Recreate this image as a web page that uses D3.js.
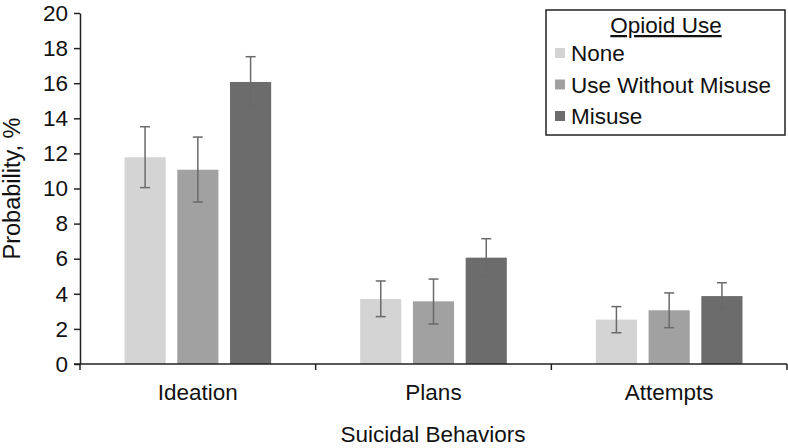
<!DOCTYPE html>
<html>
<head>
<meta charset="utf-8">
<script src="https://cdn.jsdelivr.net/npm/d3@7"></script>
<style>
  html, body { margin: 0; padding: 0; background: #fff; }
  svg { display: block; font-family: "Liberation Sans", Arial, sans-serif; }
</style>
</head>
<body>
<svg id="chart" width="788" height="448"></svg>
<script>
const categories = ["Ideation", "Plans", "Attempts"];
const seriesNames = ["None", "Use Without Misuse", "Misuse"];
const seriesColors = ["#d4d4d4", "#a1a1a1", "#6c6c6c"];
// values[series][category]
const values = [
  [11.78, 3.70, 2.53],
  [11.07, 3.57, 3.06],
  [16.07, 6.06, 3.87]
];
const errLow = [
  [10.05, 2.70, 1.78],
  [9.23, 2.28, 2.07],
  [14.70, 5.03, 3.17]
];
const errHigh = [
  [13.52, 4.73, 3.27],
  [12.93, 4.84, 4.05],
  [17.51, 7.14, 4.63]
];
const yTicks = [0, 2, 4, 6, 8, 10, 12, 14, 16, 18, 20];
const yTitle = "Probability, %";
const xTitle = "Suicidal Behaviors";
const legendTitle = "Opioid Use";

const svg = d3.select("#chart");
const mLeft = 80, mRight = 787, mTop = 13, mBottom = 364;
const fontSize = "22.5px";

const y = d3.scaleLinear().domain([0, 20]).range([mBottom, mTop]);
const x0 = d3.scaleBand().domain(categories).range([mLeft, mRight]).padding(0);
const x1 = d3.scaleBand().domain(d3.range(seriesNames.length))
  .range([44.5, x0.bandwidth() - 44.5]).paddingInner(0.22).paddingOuter(0);

const textColor = "#111";
const axisColor = "#222";

// bars
const data = [];
categories.forEach((c, ci) => {
  seriesNames.forEach((s, si) => {
    data.push({c, si, v: values[si][ci], lo: errLow[si][ci], hi: errHigh[si][ci]});
  });
});

svg.append("g").selectAll("rect").data(data).join("rect")
  .attr("x", d => x0(d.c) + x1(d.si))
  .attr("y", d => y(d.v))
  .attr("width", x1.bandwidth())
  .attr("height", d => y(0) - y(d.v))
  .attr("fill", d => seriesColors[d.si]);

// error bars
const eg = svg.append("g").attr("stroke", "#6a6a6a").attr("stroke-width", 1.5);
data.forEach(d => {
  const cx = x0(d.c) + x1(d.si) + x1.bandwidth() / 2;
  eg.append("line").attr("x1", cx).attr("x2", cx).attr("y1", y(d.hi)).attr("y2", y(d.lo));
  eg.append("line").attr("x1", cx - 5).attr("x2", cx + 5).attr("y1", y(d.hi)).attr("y2", y(d.hi));
  eg.append("line").attr("x1", cx - 5).attr("x2", cx + 5).attr("y1", y(d.lo)).attr("y2", y(d.lo));
});

// y axis
const yAxis = svg.append("g").attr("transform", `translate(${mLeft},0)`)
  .call(d3.axisLeft(y).tickValues(yTicks).tickSize(6).tickSizeOuter(0).tickPadding(6));
yAxis.select(".domain").attr("stroke", axisColor).attr("stroke-width", 1.5);
yAxis.selectAll(".tick line").attr("stroke", axisColor).attr("stroke-width", 1.5);
yAxis.selectAll(".tick text").attr("fill", textColor)
  .style("font-size", fontSize).style("font-family", '"Liberation Sans", Arial, sans-serif');

// x axis
const xAxisG = svg.append("g").attr("transform", `translate(0,${mBottom})`);
xAxisG.append("line").attr("x1", mLeft - 6).attr("x2", mRight).attr("y1", 0).attr("y2", 0)
  .attr("stroke", axisColor).attr("stroke-width", 1.5);
const bounds = categories.map(c => x0(c)).concat([x0(categories[categories.length - 1]) + x0.bandwidth()]);
xAxisG.selectAll("line.sep").data(bounds).join("line").attr("class", "sep")
  .attr("x1", d => d).attr("x2", d => d).attr("y1", 0).attr("y2", 6)
  .attr("stroke", axisColor).attr("stroke-width", 1.5);
xAxisG.selectAll("text.cat").data(categories).join("text").attr("class", "cat")
  .attr("x", d => x0(d) + x0.bandwidth() / 2)
  .attr("y", 36)
  .attr("text-anchor", "middle")
  .attr("fill", textColor)
  .style("font-size", fontSize)
  .text(d => d);

// axis titles
svg.append("text")
  .attr("x", (mLeft + mRight) / 2 - 0.5)
  .attr("y", 442)
  .attr("text-anchor", "middle")
  .attr("fill", textColor)
  .style("font-size", fontSize)
  .text(xTitle);

svg.append("text")
  .attr("transform", `translate(20,${(mTop + mBottom) / 2}) rotate(-90)`)
  .attr("text-anchor", "middle")
  .attr("fill", textColor)
  .style("font-size", "23.5px")
  .text(yTitle);

// legend
const lg = svg.append("g");
lg.append("rect").attr("x", 546).attr("y", 10).attr("width", 239).attr("height", 125)
  .attr("fill", "#fff").attr("stroke", axisColor).attr("stroke-width", 1.5);
lg.append("text").attr("x", 666).attr("y", 33).attr("text-anchor", "middle")
  .attr("fill", textColor).style("font-size", fontSize)
  .style("text-decoration", "underline")
  .text(legendTitle);
const items = lg.selectAll("g.item").data(seriesNames).join("g").attr("class", "item")
  .attr("transform", (d, i) => `translate(555,${61 + i * 31.5})`);
items.append("rect").attr("x", 0).attr("y", -13).attr("width", 10).attr("height", 10)
  .attr("fill", (d, i) => seriesColors[i]);
items.append("text").attr("x", 16).attr("y", 0).attr("fill", textColor)
  .style("font-size", fontSize).text(d => d);
</script>
</body>
</html>
